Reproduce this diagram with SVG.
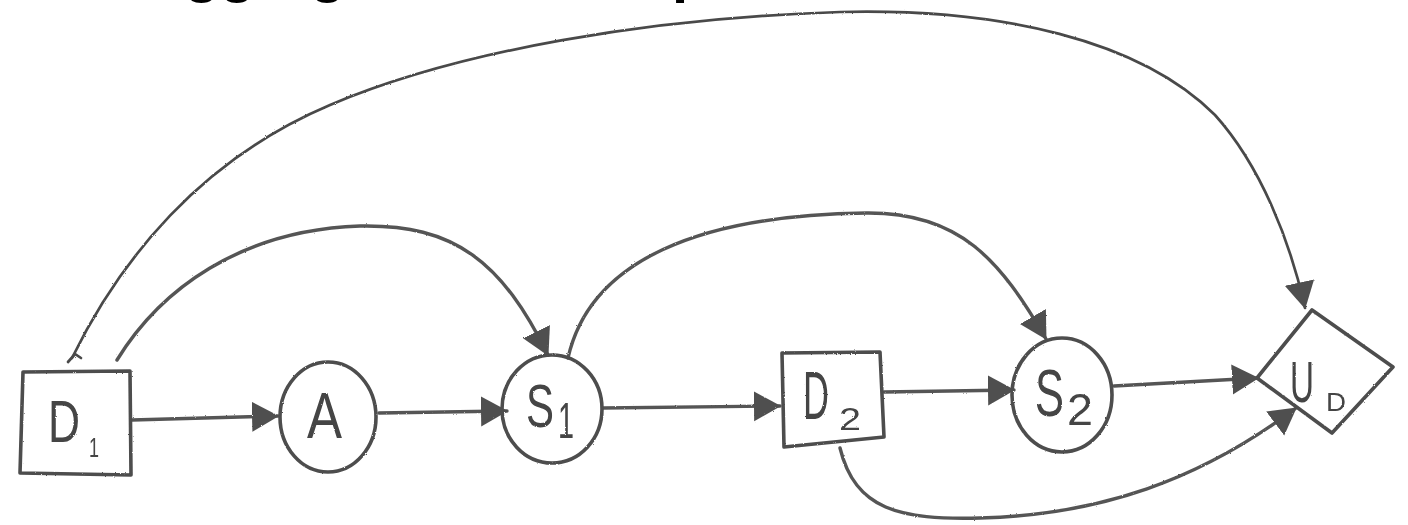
<svg xmlns="http://www.w3.org/2000/svg" width="1408" height="525" viewBox="0 0 1408 525">
<defs>
<style>
.shape{fill:none;stroke:#4d4d4d;stroke-width:3.6;stroke-linejoin:round;stroke-linecap:round}
.edge{fill:none;stroke:#555;stroke-width:3.4;stroke-linecap:round}
.thin{stroke-width:2.7;stroke:#4a4a4a}
.lbl{font-family:"Liberation Sans",Arial,sans-serif;fill:#444}
.title{font-family:"Liberation Sans",Arial,sans-serif;font-weight:bold;font-size:58px;fill:#000}
</style>
<marker id="ah" markerUnits="userSpaceOnUse" markerWidth="30" markerHeight="32" refX="26" refY="15" orient="auto">
<path d="M0 0 L27 15 L0 30 Z" fill="#505050"/>
</marker>
<filter id="rough" x="-5%" y="-5%" width="110%" height="110%">
<feTurbulence type="fractalNoise" baseFrequency="0.9" numOctaves="1" seed="3"/>
<feDisplacementMap in="SourceGraphic" scale="2.2"/>
</filter>
</defs>
<rect width="1408" height="525" fill="#fff"/>
<text class="title" x="152" y="-9">aggregate</text>
<text class="title" x="672" y="-9">p</text>
<g id="connectors" filter="url(#rough)">
<path class="edge" d="M132 420 L278 416" marker-end="url(#ah)"/>
<path class="edge" d="M379 413 L507 411" marker-end="url(#ah)"/>
<path class="edge" d="M603 408 L780 406" marker-end="url(#ah)"/>
<path class="edge" d="M884 392 L1014 390" marker-end="url(#ah)"/>
<path class="edge" d="M1114 386 L1258 378" marker-end="url(#ah)"/>
<path class="edge" d="M840 448 C855 510 900 520 980 518 C1100 515 1200 480 1296 408" marker-end="url(#ah)"/>
<path class="edge" d="M117 360 C160 290 240 230 360 226 C455 224 502 262 548 355" marker-end="url(#ah)"/>
<path class="edge" d="M568 358 C590 260 700 215 866 213 C960 212 1000 260 1046 339" marker-end="url(#ah)"/>
<path class="edge thin" d="M72 358 C120 260 200 160 330 105 C460 50 650 18 840 12 C1000 8 1140 40 1215 115 C1260 165 1290 240 1305 308" marker-end="url(#ah)"/>
<path class="edge thin" d="M68 362 L75 354 L81 358"/>
</g>
<g id="node-D1" filter="url(#rough)">
<path class="shape" d="M23 372 L130 371 L131 475 L20 473 Z"/>
<text class="lbl" x="48" y="442" font-size="59" textLength="32" lengthAdjust="spacingAndGlyphs">D</text>
<text class="lbl" x="89" y="457" font-size="28" textLength="10" lengthAdjust="spacingAndGlyphs">1</text>
</g>
<g id="node-A" filter="url(#rough)">
<ellipse class="shape" cx="328" cy="417" rx="48" ry="55"/>
<text class="lbl" x="307" y="438" font-size="64" textLength="35" lengthAdjust="spacingAndGlyphs">A</text>
</g>
<g id="node-S1" filter="url(#rough)">
<ellipse class="shape" cx="552" cy="409" rx="50" ry="54"/>
<text class="lbl" x="526" y="427" font-size="62" textLength="28" lengthAdjust="spacingAndGlyphs">S</text>
<text class="lbl" x="558" y="438" font-size="50" textLength="16" lengthAdjust="spacingAndGlyphs">1</text>
</g>
<g id="node-D2" filter="url(#rough)">
<path class="shape" d="M782 353 L880 352 L884 437 L784 447 Z"/>
<text class="lbl" x="803" y="419" font-size="68" textLength="26" lengthAdjust="spacingAndGlyphs">D</text>
<text class="lbl" x="839" y="430" font-size="31" textLength="22" lengthAdjust="spacingAndGlyphs">2</text>
</g>
<g id="node-S2" filter="url(#rough)">
<ellipse class="shape" cx="1062" cy="395" rx="50" ry="57"/>
<text class="lbl" x="1035" y="416" font-size="66" textLength="29" lengthAdjust="spacingAndGlyphs">S</text>
<text class="lbl" x="1067" y="425" font-size="44" textLength="26" lengthAdjust="spacingAndGlyphs">2</text>
</g>
<g id="node-UD" filter="url(#rough)">
<path class="shape" d="M1312 310 L1393 367 L1332 433 L1257 378 Z"/>
<text class="lbl" x="1290" y="402" font-size="58" textLength="24" lengthAdjust="spacingAndGlyphs">U</text>
<text class="lbl" x="1326" y="411" font-size="25" textLength="20" lengthAdjust="spacingAndGlyphs">D</text>
</g>
</svg>
